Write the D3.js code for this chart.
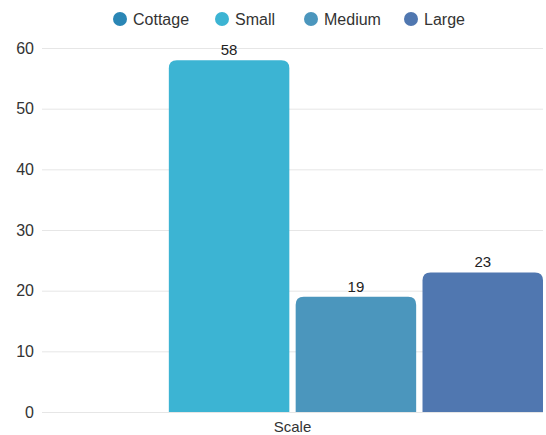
<!DOCTYPE html>
<html>
<head>
<meta charset="utf-8">
<script src="https://cdn.jsdelivr.net/npm/d3@7"></script>
<style>
body { margin: 0; background: #fff; }
text { font-family: "Liberation Sans", Arial, sans-serif; }
</style>
</head>
<body>
<div id="chart"></div>
<script>
// donnees du graphique
var categories = ["Scale"];
var seriesNames = ["Cottage", "Small", "Medium", "Large"];
var seriesValues = [0, 58, 19, 23];
var seriesColors = ["#2a86b5", "#3cb4d3", "#4b96bd", "#5077b0"];
var yTicks = [0, 10, 20, 30, 40, 50, 60];

var width = 546,
	height = 435;

var margin = {top: 48, right: 3, bottom: 23, left: 42};

var svg = d3.select("#chart")
	.append("svg")
	.attr("width", width)
	.attr("height", height);

var y = d3.scaleLinear()
	.domain([0, 60])
	.range([height - margin.bottom, margin.top]);

var x0 = d3.scaleBand()
	.domain(categories)
	.range([margin.left, width - margin.right]);

var x1 = d3.scaleBand()
	.domain(seriesNames)
	.range([0, x0.bandwidth()])
	.paddingInner(0.05);

//grille et axe y
var yAxis = d3.axisLeft(y)
	.tickValues(yTicks)
	.tickSize(-(width - margin.left - margin.right))
	.tickPadding(8);

var gy = svg.append("g")
	.attr("transform", "translate(" + margin.left + ",0)")
	.call(yAxis);
gy.select(".domain").remove();
gy.selectAll(".tick line").attr("stroke", "#e6e6e6");
gy.selectAll(".tick text")
	.attr("fill", "#333")
	.style("font-size", "16px");

//barres
var data = seriesNames.map(function(s, i){ return {name: s, value: seriesValues[i], color: seriesColors[i]}; });

var g = svg.append("g")
	.attr("transform", "translate(" + x0(categories[0]) + ",0)");

var r = 8;
g.selectAll("path.bar")
	.data(data.filter(function(d){ return d.value > 0; }))
	.enter().append("path")
	.attr("class", "bar")
	.attr("fill", function(d){ return d.color; })
	.attr("d", function(d){
		var bx = x1(d.name), bw = x1.bandwidth(), by = y(d.value), b = y(0);
		return "M" + bx + "," + b +
			"V" + (by + r) +
			"Q" + bx + "," + by + " " + (bx + r) + "," + by +
			"H" + (bx + bw - r) +
			"Q" + (bx + bw) + "," + by + " " + (bx + bw) + "," + (by + r) +
			"V" + b + "Z";
	});

g.selectAll("text.val")
	.data(data.filter(function(d){ return d.value > 0; }))
	.enter().append("text")
	.attr("class", "val")
	.attr("x", function(d){ return x1(d.name) + x1.bandwidth() / 2; })
	.attr("y", function(d){ return y(d.value) - 5; })
	.attr("text-anchor", "middle")
	.attr("fill", "#222")
	.style("font-size", "15px")
	.text(function(d){ return d.value; });

//axe x
svg.append("text")
	.attr("x", x0(categories[0]) + x0.bandwidth() / 2)
	.attr("y", height - 3)
	.attr("text-anchor", "middle")
	.attr("fill", "#333")
	.style("font-size", "15px")
	.text(categories[0]);

//legende
var legendX = [120, 222, 311, 411];
var lg = svg.selectAll("g.legend")
	.data(data)
	.enter().append("g")
	.attr("class", "legend")
	.attr("transform", function(d, i){ return "translate(" + legendX[i] + ",19)"; });
lg.append("circle")
	.attr("r", 7)
	.attr("fill", function(d){ return d.color; });
lg.append("text")
	.attr("x", 13)
	.attr("dy", "0.35em")
	.attr("fill", "#333")
	.style("font-size", "16px")
	.text(function(d){ return d.name; });
</script>
</body>
</html>
